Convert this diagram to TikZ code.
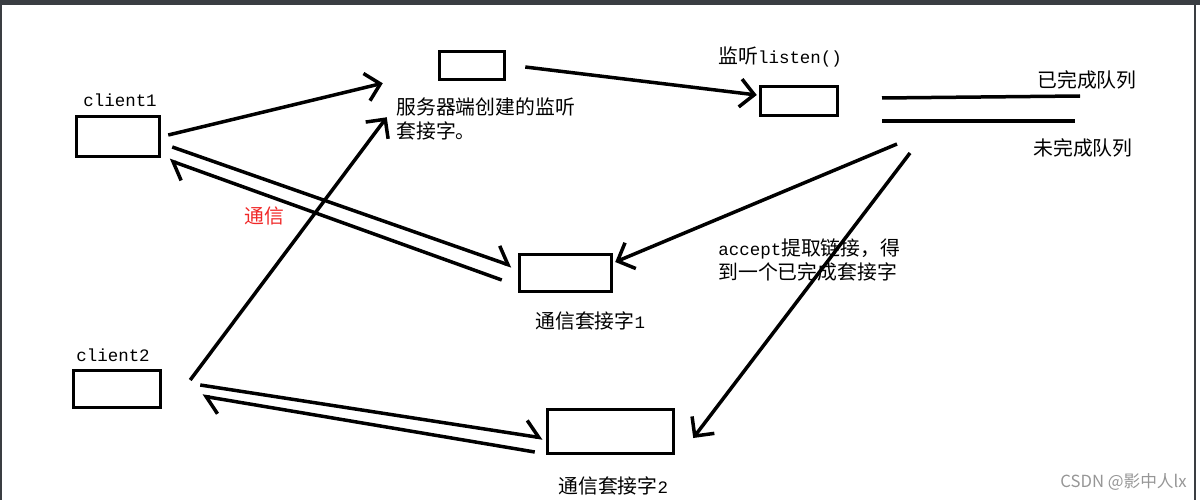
\documentclass[tikz,border=0pt]{standalone}
\usepackage{fontspec}
\usetikzlibrary{arrows.meta}
\newfontfamily\cjk{Noto Sans CJK SC}
\newfontfamily\mono[Scale=0.88]{Liberation Mono}
\definecolor{framegray}{RGB}{58,61,66}
\definecolor{commred}{RGB}{240,40,40}
\definecolor{markgray}{RGB}{150,150,150}

\begin{document}
\begin{tikzpicture}[x=0.02cm,y=-0.02cm,
font=\fontsize{11.3}{13.5}\selectfont\cjk
]

  \tikzstyle{sock}=[draw,line width=0.07cm,inner sep=0]
  \tikzstyle{lbl}=[inner sep=0,anchor=west,align=left]
  \tikzstyle{arr}=[line width=0.07cm,-{Straight Barb[length=0.28cm,width=0.56cm]}]
  \tikzstyle{harp}=[line width=0.07cm,-{Straight Barb[left,length=0.28cm,width=0.6cm]}]

  \useasboundingbox (0,0) rectangle (1200,500);
  \fill [framegray] (0,0) rectangle (1200,5);
  \fill [framegray] (0,0) rectangle (2,500);
  \fill [framegray] (1194,5) rectangle (1196,500);

  % sockets
  \node (cli1) [sock,minimum width=1.66cm,minimum height=0.80cm] at (118,136.5) {};
  \node (cli2) [sock,minimum width=1.74cm,minimum height=0.74cm] at (117,389) {};
  \node (srv)  [sock,minimum width=1.30cm,minimum height=0.56cm] at (472,65.5) {};
  \node (lis)  [sock,minimum width=1.54cm,minimum height=0.58cm] at (799,101) {};
  \node (com1) [sock,minimum width=1.84cm,minimum height=0.74cm] at (565.5,273) {};
  \node (com2) [sock,minimum width=2.52cm,minimum height=0.88cm] at (610.5,431.5) {};

  \node (cli1txt) [lbl] at (83,100) {\mono client1};
  \node (cli2txt) [lbl] at (76,355) {\mono client2};
  \node (srvtxt) [lbl] at (396,119) {服务器端创建的监听\\套接字。};
  \node (listxt) [lbl] at (718,57) {监听{\mono listen()}};
  \node (com1txt) [lbl] at (535,321) {通信套接字{\mono 1}};
  \node (com2txt) [lbl] at (558,486) {通信套接字{\mono 2}};
  \node (commtxt) [lbl,text=commred] at (244,216) {通信};
  \node (acctxt) [lbl] at (718,260) {{\mono accept}提取链接，得\\到一个已完成套接字};
  \node (donetxt) [lbl] at (1037,80) {已完成队列};
  \node (undonetxt) [lbl] at (1033,148) {未完成队列};
  \node (mark) [lbl,text=markgray,font=\fontsize{9.5}{11}\selectfont\cjk] at (1060,482) {CSDN @影中人lx};

  % queues
  \draw [line width=0.07cm] (882,98) -- (1080,96);
  \draw [line width=0.07cm] (882,121) -- (1075,121);
  \coordinate (q1) at (897,144);
  \coordinate (q2) at (910,153);

  \draw [arr] ([shift={(7,-1.5)}]cli1.east) -- ([shift={(-55,2)}]srv.south west);
  \draw [arr] ([shift={(28,-9)}]cli2.east) -- ([shift={(-51,36)}]srv.south west);
  \draw [arr] ([shift={(19,1.5)}]srv.east) -- ([shift={(-2,-6)}]lis.west);

  \draw [harp] ([shift={(11,10.5)}]cli1.east) -- ([shift={(-6,-7)}]com1.west);
  \draw [harp] ([shift={(-16,7)}]com1.west) -- ([shift={(8,2)}]cli1.south east);
  \draw [harp] ([shift={(38,-4)}]cli2.east) -- ([shift={(-3,6.5)}]com2.west);
  \draw [harp] ([shift={(-11,20.5)}]com2.west) -- ([shift={(40,7)}]cli2.east);

  \draw [arr] (q1) -- ([shift={(2,-11)}]com1.east);
  \draw [arr] (q2) -- ([shift={(18,6.5)}]com2.east);

\end{tikzpicture}
\end{document}
